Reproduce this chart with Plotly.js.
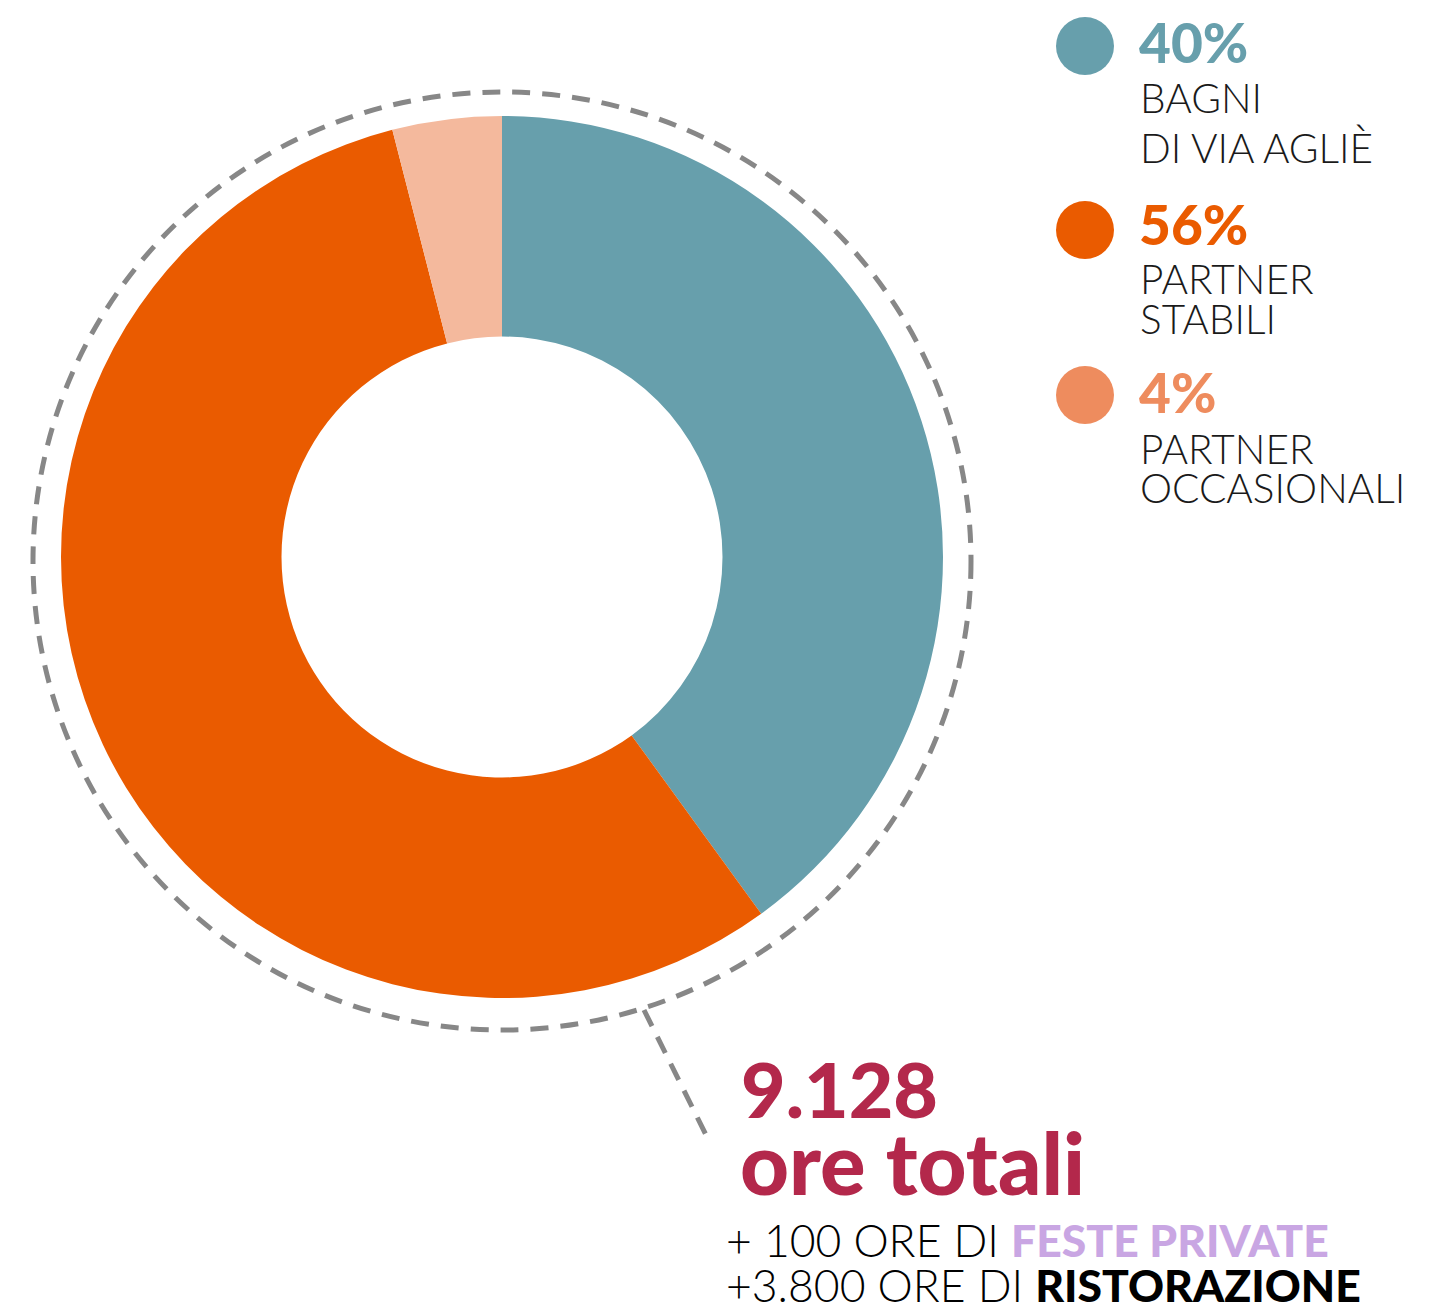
<!DOCTYPE html>
<html>
<head>
<meta charset="utf-8">
<script src="https://cdn.plot.ly/plotly-3.0.1.min.js"></script>
<style>
  html, body { margin: 0; padding: 0; background: #ffffff; }
  #chart { width: 1449px; height: 1307px; }
</style>
</head>
<body>
<div id="chart"></div>
<script>
// ---- data ----
const categories = ['BAGNI DI VIA AGLIÈ', 'PARTNER STABILI', 'PARTNER OCCASIONALI'];
const labelLines = [['BAGNI', 'DI VIA AGLIÈ'], ['PARTNER', 'STABILI'], ['PARTNER', 'OCCASIONALI']];
const shares = [40, 56, 4];
const sliceColors = ['#679FAC', '#EA5B00', '#F4B99D'];
const legendColors = ['#679FAC', '#EA5B00', '#EE8C5E'];
const totalHours = '9.128';
const totalLabel = 'ore totali';
const extraHours = ['+ 100', '+3.800'];
const extraWhat = ['FESTE PRIVATE', 'RISTORAZIONE'];
const extraColors = ['#C9A6E3', '#000000'];

// ---- layout helpers (pixel -> paper) ----
const W = 1449, H = 1307;
const px = x => x / W;
const py = y => 1 - y / H;

const cx = 502, cy = 557, R = 441;

const trace = {
  type: 'pie',
  labels: categories,
  values: shares,
  sort: false,
  direction: 'clockwise',
  rotation: 0,
  hole: 0.5,
  marker: { colors: sliceColors, line: { width: 0 } },
  textinfo: 'none',
  hoverinfo: 'label+percent',
  showlegend: false,
  domain: { x: [px(cx - R), px(cx + R)], y: [py(cy + R), py(cy - R)] }
};

const FONT = 'Lato, "Open Sans", sans-serif';
const annotations = [];
const shapes = [];

// dashed ring
const rc = { x: 502, y: 561, r: 469 };
shapes.push({
  type: 'circle', xref: 'paper', yref: 'paper',
  x0: px(rc.x - rc.r), x1: px(rc.x + rc.r), y0: py(rc.y + rc.r), y1: py(rc.y - rc.r),
  line: { color: '#878787', width: 5, dash: '18px,12px' }, fillcolor: 'rgba(0,0,0,0)'
});
// dashed leader
shapes.push({
  type: 'line', xref: 'paper', yref: 'paper',
  x0: px(644), y0: py(1010), x1: px(710), y1: py(1143),
  line: { color: '#878787', width: 5, dash: '18px,12px' }
});

// legend
const legendY = [
  { dot: 46, pct: 42, lines: [97, 147] },
  { dot: 230, pct: 224, lines: [278, 318] },
  { dot: 395, pct: 392, lines: [448, 487] }
];
shares.forEach((v, i) => {
  const L = legendY[i];
  const r = 29;
  shapes.push({
    type: 'circle', xref: 'paper', yref: 'paper',
    x0: px(1085 - r), x1: px(1085 + r), y0: py(L.dot + r), y1: py(L.dot - r),
    line: { width: 0 }, fillcolor: legendColors[i]
  });
  annotations.push({
    xref: 'paper', yref: 'paper', x: px(1137), y: py(L.pct), xanchor: 'left', yanchor: 'middle',
    text: v + '%', showarrow: false,
    font: { family: FONT, size: 55, color: legendColors[i], weight: 900 }
  });
  labelLines[i].forEach((t, j) => {
    annotations.push({
      xref: 'paper', yref: 'paper', x: px(1138), y: py(L.lines[j]), xanchor: 'left', yanchor: 'middle',
      text: t, showarrow: false,
      font: { family: FONT, size: 40.5, color: '#1a1a1a', weight: 300 }
    });
  });
});

// total
annotations.push({
  xref: 'paper', yref: 'paper', x: px(739), y: py(1088), xanchor: 'left', yanchor: 'middle',
  text: totalHours, showarrow: false,
  font: { family: FONT, size: 77, color: '#B3284B', weight: 900 }
});
annotations.push({
  xref: 'paper', yref: 'paper', x: px(738), y: py(1162), xanchor: 'left', yanchor: 'middle',
  text: totalLabel, showarrow: false,
  font: { family: FONT, size: 85, color: '#B3284B', weight: 900 }
});
const extraY = [1239, 1284];
extraHours.forEach((h, i) => {
  annotations.push({
    xref: 'paper', yref: 'paper', x: px(724), y: py(extraY[i]), xanchor: 'left', yanchor: 'middle',
    text: h + ' ORE DI <span style="font-weight:900;fill:' + extraColors[i] + '">' + extraWhat[i] + '</span>',
    showarrow: false,
    font: { family: FONT, size: 44.5, color: '#000000', weight: 300 }
  });
});

const layout = {
  width: W, height: H,
  margin: { l: 0, r: 0, t: 0, b: 0 },
  paper_bgcolor: '#ffffff',
  plot_bgcolor: '#ffffff',
  showlegend: false,
  shapes: shapes,
  annotations: annotations
};

Plotly.newPlot('chart', [trace], layout, { displayModeBar: false, staticPlot: true });
</script>
</body>
</html>
